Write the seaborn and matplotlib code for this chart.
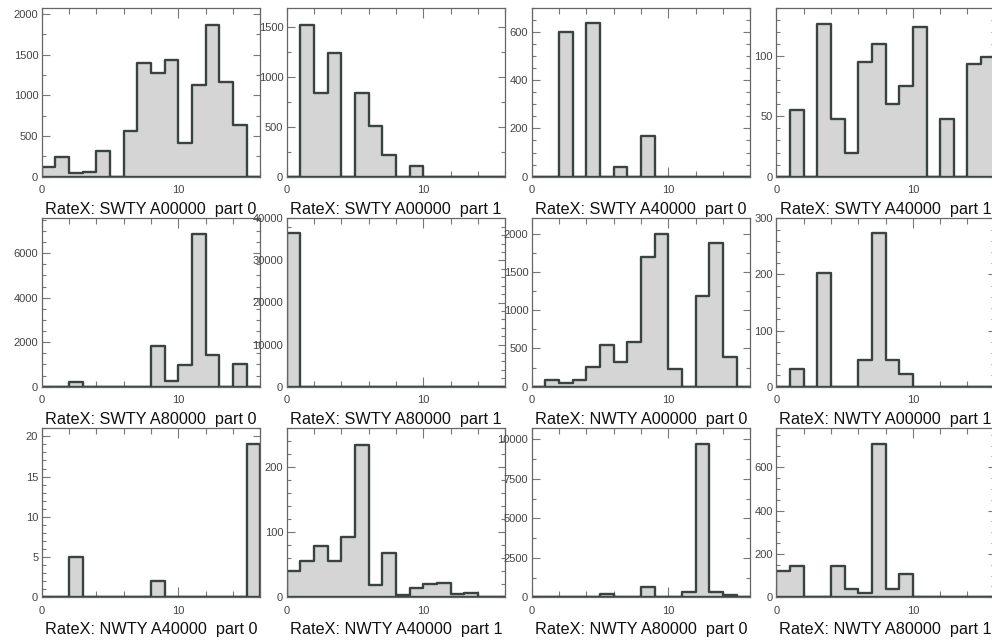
import numpy as np
import pandas as pd
import matplotlib
matplotlib.use("Agg")
import matplotlib.pyplot as plt
import seaborn as sns
from matplotlib.ticker import MultipleLocator

sns.set_style("ticks")
plt.rcParams["font.family"] = ["Liberation Sans", "DejaVu Sans"]

# histogram bins (width 1, 0..16)
bin_edges = np.arange(0, 17)
bin_centers = bin_edges[:-1] + 0.5

titles = [
    "RateX: SWTY A00000  part 0", "RateX: SWTY A00000  part 1",
    "RateX: SWTY A40000  part 0", "RateX: SWTY A40000  part 1",
    "RateX: SWTY A80000  part 0", "RateX: SWTY A80000  part 1",
    "RateX: NWTY A00000  part 0", "RateX: NWTY A00000  part 1",
    "RateX: NWTY A40000  part 0", "RateX: NWTY A40000  part 1",
    "RateX: NWTY A80000  part 0", "RateX: NWTY A80000  part 1",
]

swty_a00000_p0 = [125, 240, 40, 60, 310, 0, 560, 1400, 1280, 1440, 420, 1125, 1865, 1160, 630, 0]
swty_a00000_p1 = [0, 1525, 845, 1240, 0, 845, 510, 215, 0, 105, 0, 0, 0, 0, 0, 0]
swty_a40000_p0 = [0, 0, 600, 0, 635, 0, 40, 0, 168, 0, 0, 0, 0, 0, 0, 0]
swty_a40000_p1 = [0, 55, 0, 126, 48, 20, 95, 110, 60, 75, 124, 0, 48, 0, 93, 99]
swty_a80000_p0 = [0, 0, 225, 0, 0, 0, 0, 0, 1830, 260, 960, 6855, 1440, 0, 1005, 0]
swty_a80000_p1 = [36400, 0, 0, 0, 0, 0, 0, 0, 0, 0, 0, 0, 0, 0, 0, 0]
nwty_a00000_p0 = [0, 87, 52, 83, 253, 546, 319, 590, 1694, 1990, 231, 0, 1179, 1878, 389, 0]
nwty_a00000_p1 = [0, 31, 0, 202, 0, 0, 47, 274, 47, 23, 0, 0, 0, 0, 0, 0]
nwty_a40000_p0 = [0, 0, 5, 0, 0, 0, 0, 0, 2, 0, 0, 0, 0, 0, 0, 19]
nwty_a40000_p1 = [41, 56, 79, 56, 92, 235, 19, 68, 4, 14, 21, 22, 5, 6, 1, 0]
nwty_a80000_p0 = [0, 0, 0, 0, 0, 212, 0, 0, 678, 0, 0, 360, 9725, 360, 127, 0]
nwty_a80000_p1 = [122, 145, 0, 0, 145, 37, 18, 706, 37, 109, 0, 0, 0, 0, 0, 0]

all_counts = [
    swty_a00000_p0, swty_a00000_p1, swty_a40000_p0, swty_a40000_p1,
    swty_a80000_p0, swty_a80000_p1, nwty_a00000_p0, nwty_a00000_p1,
    nwty_a40000_p0, nwty_a40000_p1, nwty_a80000_p0, nwty_a80000_p1,
]

# y axis range and tick steps per panel
y_max = [2080, 1700, 700, 140, 7570, 40000, 2200, 300, 21, 260, 10700, 780]
y_major = [500, 500, 200, 50, 2000, 10000, 500, 100, 5, 100, 2500, 200]
y_minor = [250, 250, 50, 10, 500, 2000, 250, 20, 1, 20, 1250, 50]

W, H = 992, 641
fig = plt.figure(figsize=(W / 100, H / 100), dpi=100)

col_left = [41.7, 286.7, 531.7, 776.3]
ax_w = 218.5
row_top = [7.5, 218.3, 428.3]
row_bottom = [176.7, 386.7, 597.3]

for i, counts in enumerate(all_counts):
    r, c = divmod(i, 4)
    left = col_left[c] / W
    bottom = (H - row_bottom[r]) / H
    height = (row_bottom[r] - row_top[r]) / H
    ax = fig.add_axes([left, bottom, ax_w / W, height])

    df = pd.DataFrame({"rate": bin_centers, "count": counts})
    sns.histplot(data=df, x="rate", weights="count", bins=list(bin_edges),
                 element="step", fill=True, facecolor="#d5d5d5",
                 edgecolor="#3a4242", linewidth=1.7, alpha=1, ax=ax)

    ax.set_xlim(0, 16)
    ax.set_ylim(0, y_max[i])
    ax.xaxis.set_major_locator(MultipleLocator(10))
    ax.xaxis.set_minor_locator(MultipleLocator(2))
    ax.yaxis.set_major_locator(MultipleLocator(y_major[i]))
    ax.yaxis.set_minor_locator(MultipleLocator(y_minor[i]))
    ax.set_xlabel("")
    ax.set_ylabel("")

    ax.tick_params(which="both", direction="in", top=True, right=True,
                   color="#777777", labelcolor="#444444", labelsize=8, width=0.8)
    ax.tick_params(axis="x", which="major", length=7, pad=6)
    ax.tick_params(axis="x", which="minor", length=4.3)
    ax.tick_params(axis="y", which="major", length=5.4, pad=2.5)
    ax.tick_params(axis="y", which="minor", length=3.2)
    for sp in ax.spines.values():
        sp.set_visible(True)
        sp.set_color("#666666")
        sp.set_linewidth(0.9)

    cx = (col_left[c] + ax_w / 2) / W
    ty = (H - (row_bottom[r] + 37)) / H
    fig.text(cx, ty, titles[i], ha="center", va="baseline",
             fontsize=11.7, color="#111111")

fig.savefig("out.png", dpi=100)
